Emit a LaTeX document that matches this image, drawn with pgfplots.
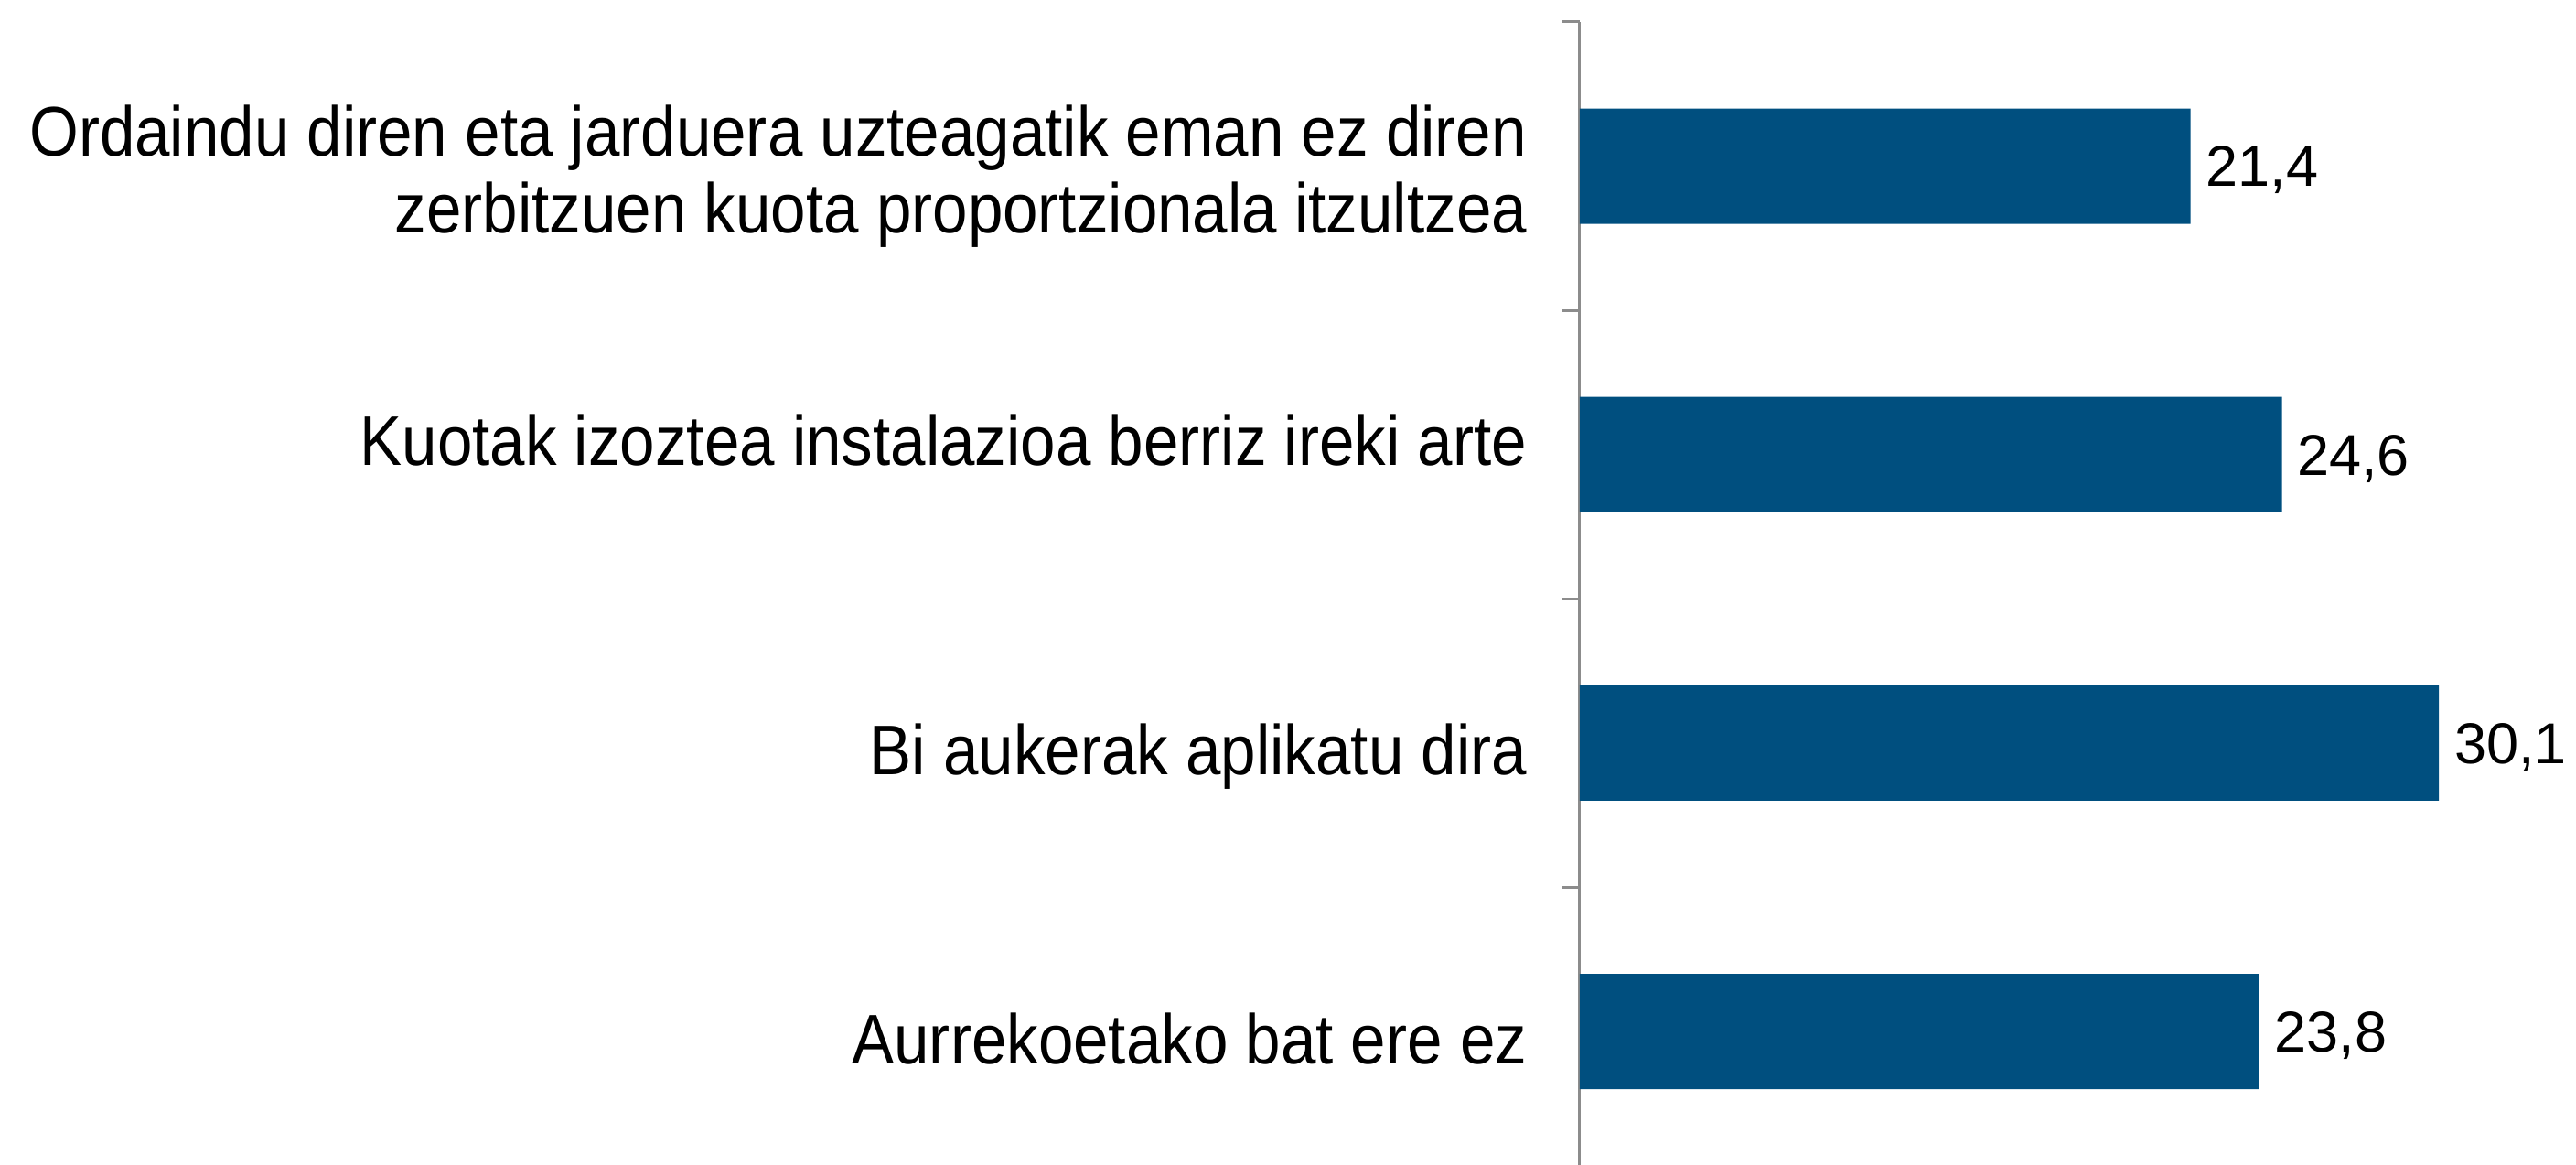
\documentclass[border=0pt]{standalone}
\usepackage{fontspec}
\setmainfont{Liberation Sans}
\newfontfamily\catfont{Liberation Sans}[FakeStretch=0.9]
\usepackage{pgfplots}
\pgfplotsset{compat=1.18}
\pgfplotsset{/pgf/number format/assume math mode=true}
\definecolor{barblue}{RGB}{0,79,127}
\definecolor{axisgray}{RGB}{140,140,140}
\begin{document}
\begin{tikzpicture}
\begin{axis}[
  at={(0,0)}, anchor=south west,
  scale only axis,
  width=272.25pt, height=312.25pt,
  xmin=0, xmax=34.9,
  ymin=-0.463, ymax=3.5,
  xbar, bar width=0.4,
  axis x line=none,
  axis y line*=left,
  y axis line style={axisgray, line width=0.75pt},
  clip=false,
  ytick={0,1,2,3},
  major tick length=0pt,
  yticklabels={
    {\raisebox{-8.9pt}[0pt][0pt]{Aurrekoetako bat ere ez}},
    {\raisebox{-8.6pt}[0pt][0pt]{Bi aukerak aplikatu dira}},
    {\raisebox{-2.9pt}[0pt][0pt]{Kuotak izoztea instalazioa berriz ireki arte}},
    {\raisebox{-18.15pt}[0pt][0pt]{\begin{tabular}[b]{@{}r@{}}Ordaindu diren eta jarduera uzteagatik eman ez diren\\zerbitzuen kuota proportzionala itzultzea\end{tabular}}}},
  yticklabel style={font=\catfont\fontsize{19.2}{20.9}\selectfont, anchor=east, inner sep=0pt, xshift=-14.25pt},
  extra y ticks={0.5,1.5,2.5,3.5},
  extra y tick labels={},
  extra y tick style={major tick length=4.75pt, tick align=outside, tick style={draw=axisgray, line width=0.75pt}},
  point meta=x,
  nodes near coords={\pgfmathprintnumber[fixed, fixed zerofill, precision=1, use comma]{\pgfplotspointmeta}},
  every node near coord/.append style={font=\fontsize{15.75}{18}\selectfont, text=black, anchor=base west, inner sep=0pt, xshift=4pt, yshift=-5.6pt},
]
\addplot[fill=barblue, draw=none] coordinates {(23.8,0) (30.1,1) (24.6,2) (21.4,3)};
\end{axis}
\pgfresetboundingbox
\useasboundingbox (-431.75pt,0pt) rectangle (272.25pt,318.25pt);
\end{tikzpicture}
\end{document}
